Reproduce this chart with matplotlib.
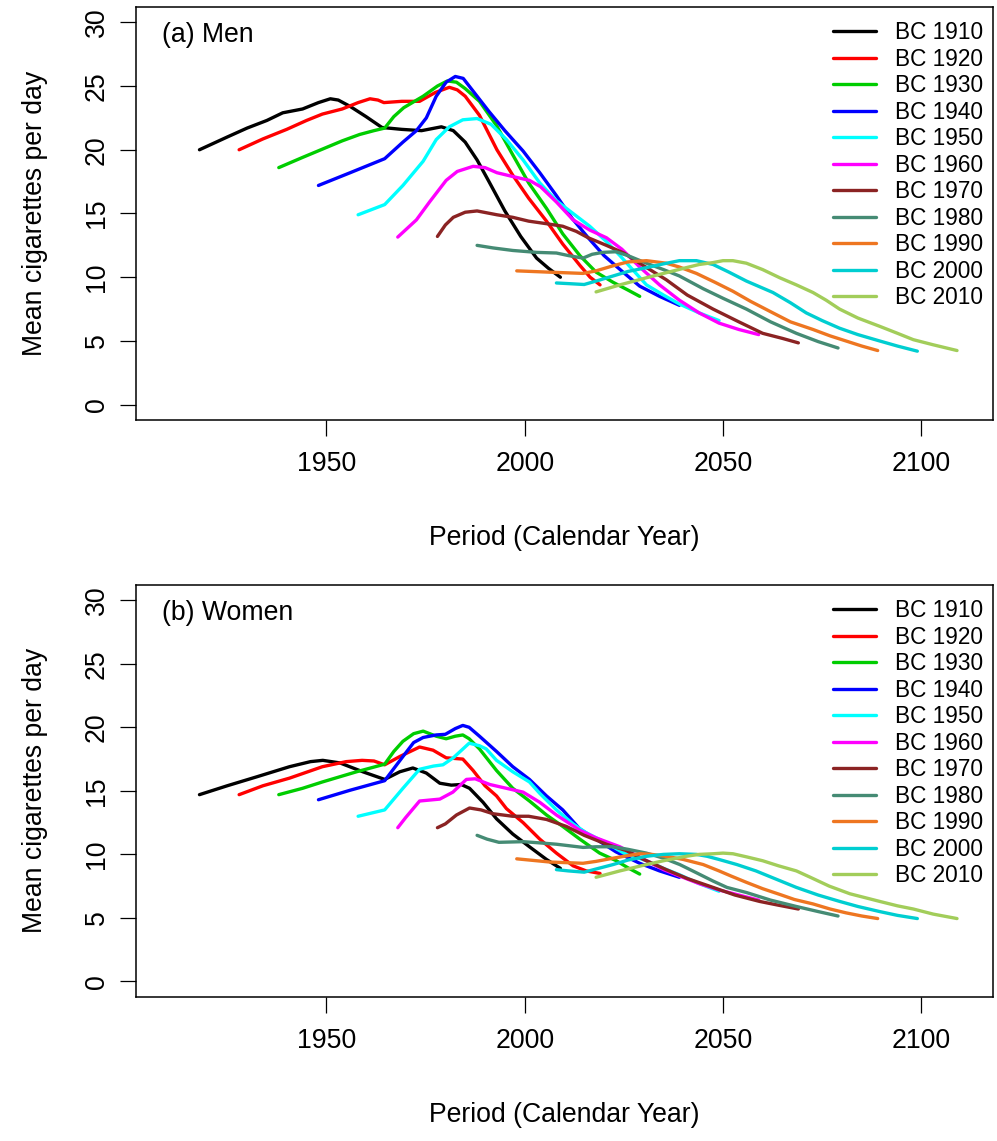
import matplotlib
matplotlib.use('Agg')
import matplotlib.pyplot as plt

plt.rcParams['font.family'] = ['Liberation Sans', 'DejaVu Sans']
FS = 19.2      # axis text
FS_LEG = 16.3  # legend text

cohorts = ['BC 1910', 'BC 1920', 'BC 1930', 'BC 1940', 'BC 1950', 'BC 1960',
           'BC 1970', 'BC 1980', 'BC 1990', 'BC 2000', 'BC 2010']
colors = ['black', '#FF0000', '#00CD00', '#0000FF', '#00FFFF', '#FF00FF',
          '#8B2323', '#458B74', '#EE7621', '#00CED1', '#A2CD5A']

# ---------------- men: (calendar year, mean cigarettes per day) ----------------
men_yr_1910 = [1918, 1925, 1930, 1935, 1939, 1944, 1948, 1951, 1953, 1956, 1960, 1964, 1969, 1974,
               1979, 1982, 1985, 1988, 1991, 1995, 1999, 2003, 2006, 2009]
men_cig_1910 = [20.0, 21.0, 21.7, 22.3, 22.9, 23.2, 23.7, 24.0, 23.9, 23.4, 22.6, 21.75, 21.6, 21.5,
                21.8, 21.5, 20.6, 19.2, 17.5, 15.2, 13.2, 11.5, 10.7, 10.0]
men_yr_1920 = [1928, 1934, 1940, 1945, 1949, 1954, 1958, 1961, 1963, 1964.5, 1969, 1973.5, 1977.5, 1981,
               1983, 1985, 1988.6, 1993, 1997, 2001, 2005.5, 2009.6, 2014, 2016.5, 2019]
men_cig_1920 = [20.0, 20.85, 21.6, 22.3, 22.8, 23.2, 23.7, 24.0, 23.9, 23.7, 23.8, 23.8, 24.5, 24.9,
                24.7, 24.2, 22.7, 20.0, 18.0, 16.2, 14.4, 12.6, 10.9, 10.0, 9.4]
men_yr_1930 = [1938, 1944, 1949, 1954, 1958.4, 1962, 1964.7, 1967, 1969.5, 1974.4, 1978, 1980.5, 1982.8,
               1985, 1988.6, 1992.9, 1997, 2001, 2005.5, 2009.6, 2013.9, 2018, 2022.3, 2026, 2029]
men_cig_1930 = [18.6, 19.4, 20.05, 20.7, 21.2, 21.5, 21.7, 22.6, 23.3, 24.2, 25.0, 25.4, 25.3,
                24.8, 23.8, 21.9, 19.6, 17.4, 15.4, 13.4, 11.7, 10.4, 9.6, 9.0, 8.5]
men_yr_1940 = [1948, 1956, 1964.7, 1969.3, 1972.7, 1975.2, 1977.7, 1980.2, 1982.5, 1984.5, 1987, 1991,
               1995, 1999.6, 2003.8, 2008, 2012, 2016, 2020, 2024.8, 2029, 2034, 2039]
men_cig_1940 = [17.2, 18.2, 19.3, 20.6, 21.5, 22.5, 24.2, 25.3, 25.75, 25.6, 24.6, 23.0,
                21.5, 19.9, 18.2, 16.4, 14.6, 13.1, 11.7, 10.4, 9.3, 8.5, 7.8]
men_yr_1950 = [1958, 1964.7, 1969.3, 1974.4, 1977.7, 1981, 1984.4, 1988, 1991.5, 1995.4, 1999.6, 2003.8,
               2008, 2012.2, 2016.4, 2020.6, 2024, 2030.7, 2035, 2039, 2044, 2049]
men_cig_1950 = [14.9, 15.7, 17.2, 19.1, 20.8, 21.8, 22.35, 22.45, 22.0, 20.8, 19.2, 17.4,
                16.0, 15.0, 14.0, 12.8, 11.7, 9.4, 8.6, 7.9, 7.2, 6.6]
men_yr_1960 = [1968, 1972.7, 1976, 1980.2, 1983, 1987, 1990, 1993, 1997, 2001.2, 2004, 2008, 2012.2,
               2016.4, 2020.6, 2024.5, 2029, 2034, 2039, 2044, 2049, 2054, 2059]
men_cig_1960 = [13.15, 14.5, 15.9, 17.6, 18.3, 18.7, 18.6, 18.2, 17.9, 17.6, 17.1, 15.9, 14.5,
                13.7, 13.1, 12.2, 10.8, 9.4, 8.2, 7.2, 6.4, 5.9, 5.5]
men_yr_1970 = [1978, 1980, 1982, 1985, 1988, 1993, 1997, 2001, 2005.5, 2009.6, 2013, 2016, 2020.6,
               2025, 2030, 2035.7, 2041, 2047.5, 2054, 2060, 2065, 2069]
men_cig_1970 = [13.2, 14.1, 14.7, 15.1, 15.2, 14.9, 14.7, 14.4, 14.2, 14.0, 13.6, 13.1, 12.5,
                11.9, 10.9, 9.8, 8.6, 7.5, 6.5, 5.6, 5.2, 4.85]
men_yr_1980 = [1988, 1992, 1997, 2003, 2008, 2011, 2014.7, 2017, 2019.7, 2023, 2026, 2030.7, 2035,
               2039, 2045, 2050, 2055.9, 2062, 2068.5, 2074, 2079]
men_cig_1980 = [12.5, 12.3, 12.1, 11.95, 11.9, 11.7, 11.5, 11.8, 11.95, 12.0, 11.7, 11.1, 10.6,
                10.1, 9.1, 8.35, 7.5, 6.5, 5.6, 4.95, 4.45]
men_yr_1990 = [1998, 2006, 2014.7, 2018, 2022.3, 2026, 2030.7, 2035.7, 2039, 2043.3, 2048, 2052.5,
               2057, 2062.6, 2067, 2072.7, 2077, 2081, 2085, 2089]
men_cig_1990 = [10.5, 10.4, 10.3, 10.5, 10.9, 11.2, 11.3, 11.1, 10.8, 10.3, 9.6, 8.9,
                8.1, 7.2, 6.5, 5.9, 5.4, 5.0, 4.6, 4.25]
men_yr_2000 = [2008, 2011, 2015, 2018, 2022.3, 2026, 2030.7, 2035, 2039, 2043.3, 2047.5, 2051.5,
               2055.9, 2062.6, 2067, 2071, 2075, 2079.4, 2084, 2089.5, 2094, 2099]
men_cig_2000 = [9.55, 9.5, 9.43, 9.7, 10.1, 10.45, 10.75, 11.05, 11.3, 11.3, 11.0, 10.4,
                9.7, 8.8, 8.0, 7.2, 6.6, 6.0, 5.5, 5.0, 4.6, 4.2]
men_yr_2010 = [2018, 2024, 2030.7, 2035, 2040.7, 2044, 2047.5, 2050, 2052.5, 2055.9, 2060, 2064.3,
               2068.5, 2072.7, 2076, 2079.4, 2084, 2089.5, 2094, 2098, 2103, 2109]
men_cig_2010 = [8.85, 9.4, 9.96, 10.3, 10.75, 11.0, 11.15, 11.3, 11.3, 11.1, 10.6, 9.96,
                9.4, 8.8, 8.2, 7.5, 6.8, 6.15, 5.6, 5.1, 4.7, 4.25]

# ---------------- women ----------------
wom_yr_1910 = [1918, 1925, 1932.4, 1940.7, 1946, 1949.1, 1953.4, 1959.2, 1964.7, 1968.5, 1971.8, 1975.2,
               1978.6, 1981.5, 1984, 1986.1, 1989.5, 1992.9, 1997, 2001.2, 2005.5, 2009]
wom_cig_1910 = [14.7, 15.4, 16.1, 16.9, 17.3, 17.4, 17.2, 16.5, 15.9, 16.5, 16.8, 16.4,
                15.6, 15.45, 15.5, 15.2, 14.1, 12.8, 11.6, 10.6, 9.6, 8.9]
wom_yr_1920 = [1928, 1934, 1940.7, 1949, 1955, 1959, 1962, 1964.7, 1968.5, 1973.5, 1976.9, 1980.2,
               1984.4, 1987, 1990, 1992.9, 1995.4, 1999.6, 2003.8, 2008, 2012.2, 2015.5, 2019]
wom_cig_1920 = [14.7, 15.4, 16.0, 16.9, 17.3, 17.4, 17.35, 17.05, 17.7, 18.45, 18.2, 17.6,
                17.5, 16.6, 15.4, 14.6, 13.6, 12.5, 11.2, 10.1, 9.1, 8.7, 8.5]
wom_yr_1930 = [1938, 1944, 1949, 1957.6, 1964.7, 1967, 1969.3, 1972, 1974.4, 1977.7, 1980.2, 1982.5,
               1984.4, 1986, 1988.6, 1992.9, 1997, 2001.2, 2005.5, 2009.6, 2013.9, 2018.9, 2023.1,
               2026, 2029]
wom_cig_1930 = [14.7, 15.2, 15.7, 16.5, 17.1, 18.1, 18.9, 19.5, 19.7, 19.3, 19.1, 19.3,
                19.4, 19.1, 18.3, 16.6, 15.2, 14.2, 13.1, 12.2, 11.2, 10.1, 9.5,
                8.95, 8.45]
wom_yr_1940 = [1948, 1956, 1964.7, 1969.3, 1972, 1974.4, 1977.7, 1980, 1982.5, 1984.4, 1986, 1988.6,
               1992.9, 1997, 2001.2, 2005.5, 2009.6, 2013.9, 2018, 2023, 2029, 2034, 2039]
wom_cig_1940 = [14.3, 15.05, 15.8, 17.7, 18.8, 19.2, 19.4, 19.45, 19.9, 20.15, 20.0, 19.3,
                18.1, 16.9, 15.9, 14.6, 13.5, 12.0, 11.2, 10.2, 9.3, 8.7, 8.2]
wom_yr_1950 = [1958, 1964.7, 1969.3, 1973.5, 1977, 1979.4, 1982, 1986, 1988.6, 1990.3, 1992.9, 1997,
               2001.2, 2003.8, 2008, 2012.2, 2015.5, 2020.6, 2025, 2030.7, 2035, 2039, 2044, 2049]
wom_cig_1950 = [13.0, 13.5, 15.2, 16.7, 16.95, 17.05, 17.6, 18.75, 18.55, 18.3, 17.4, 16.5,
                15.7, 14.8, 13.5, 12.4, 11.7, 10.9, 10.1, 9.5, 8.9, 8.4, 7.7, 7.1]
wom_yr_1960 = [1968, 1970, 1973.5, 1978.6, 1981.9, 1985.3, 1987.5, 1991.2, 1995.4, 1999.6, 2003.8,
               2008, 2013.9, 2018, 2024, 2030.7, 2035, 2039, 2044, 2049, 2054, 2059]
wom_cig_1960 = [12.1, 12.9, 14.2, 14.35, 14.9, 15.9, 15.95, 15.5, 15.2, 14.9, 14.1,
                13.1, 11.9, 11.3, 10.6, 9.5, 8.8, 8.3, 7.7, 7.2, 6.8, 6.4]
wom_yr_1970 = [1978, 1980, 1982.8, 1986.1, 1989, 1992, 1997, 2001, 2005.5, 2010.5, 2015, 2020.6,
               2025.6, 2030, 2035.7, 2041, 2047.5, 2053, 2059.2, 2064, 2069]
wom_cig_1970 = [12.1, 12.4, 13.1, 13.65, 13.5, 13.2, 13.0, 13.0, 12.75, 12.2, 11.5, 10.8,
                10.3, 9.6, 8.8, 8.1, 7.4, 6.8, 6.3, 6.0, 5.7]
wom_yr_1980 = [1988, 1990.5, 1993.5, 1999.6, 2004, 2008, 2014.7, 2018, 2022.3, 2026, 2030.7, 2035,
               2039.1, 2043, 2047.5, 2051, 2055.9, 2062, 2068.5, 2074, 2079]
wom_cig_1980 = [11.5, 11.2, 10.95, 11.0, 10.9, 10.8, 10.55, 10.6, 10.6, 10.4, 10.1, 9.7,
                9.2, 8.6, 7.9, 7.4, 7.0, 6.4, 5.9, 5.5, 5.15]
wom_yr_1990 = [1998, 2006.3, 2014.7, 2018, 2022.3, 2026, 2029, 2032, 2035.7, 2040, 2045, 2049,
               2052, 2055.9, 2060, 2064.3, 2068, 2072.7, 2077, 2081, 2085, 2089]
wom_cig_1990 = [9.65, 9.4, 9.3, 9.45, 9.7, 9.9, 10.05, 10.0, 9.85, 9.6, 9.2, 8.7,
                8.3, 7.8, 7.3, 6.85, 6.45, 6.1, 5.7, 5.4, 5.15, 4.95]
wom_yr_2000 = [2008, 2011, 2015, 2018, 2022.3, 2026, 2030.7, 2035, 2039, 2043.3, 2046, 2049,
               2053.5, 2058.3, 2063, 2068.5, 2074, 2079.4, 2084, 2089.5, 2094, 2099]
wom_cig_2000 = [8.8, 8.7, 8.6, 8.85, 9.2, 9.55, 9.85, 10.0, 10.05, 10.0, 9.85, 9.6,
                9.2, 8.7, 8.1, 7.4, 6.8, 6.3, 5.9, 5.5, 5.2, 4.95]
wom_yr_2010 = [2018, 2024, 2030.7, 2035, 2040.7, 2044, 2047.5, 2050, 2052.5, 2056, 2060, 2064,
               2068.5, 2072, 2076.8, 2082, 2089.5, 2094, 2098, 2103, 2109]
wom_cig_2010 = [8.2, 8.7, 9.2, 9.5, 9.85, 10.0, 10.05, 10.1, 10.05, 9.8, 9.5, 9.1,
                8.7, 8.2, 7.5, 6.9, 6.3, 5.95, 5.7, 5.3, 4.95]

men_years = [men_yr_1910, men_yr_1920, men_yr_1930, men_yr_1940, men_yr_1950, men_yr_1960,
             men_yr_1970, men_yr_1980, men_yr_1990, men_yr_2000, men_yr_2010]
men_vals = [men_cig_1910, men_cig_1920, men_cig_1930, men_cig_1940, men_cig_1950, men_cig_1960,
            men_cig_1970, men_cig_1980, men_cig_1990, men_cig_2000, men_cig_2010]
wom_years = [wom_yr_1910, wom_yr_1920, wom_yr_1930, wom_yr_1940, wom_yr_1950, wom_yr_1960,
             wom_yr_1970, wom_yr_1980, wom_yr_1990, wom_yr_2000, wom_yr_2010]
wom_vals = [wom_cig_1910, wom_cig_1920, wom_cig_1930, wom_cig_1940, wom_cig_1950, wom_cig_1960,
            wom_cig_1970, wom_cig_1980, wom_cig_1990, wom_cig_2000, wom_cig_2010]

W, H = 997, 1141
fig = plt.figure(figsize=(W / 100, H / 100), dpi=100)


def panel(top, bottom, years, vals, tag):
    ax = fig.add_axes([136 / W, 1 - bottom / H, (992.7 - 136) / W, (bottom - top) / H])
    for yr, v, c, lab in zip(years, vals, colors, cohorts):
        ax.plot(yr, v, color=c, lw=2.4, solid_capstyle='round', label=lab)
    ax.set_xlim(1902, 2118)
    ax.set_ylim(-1.2, 31.2)
    ax.set_xticks([1950, 2000, 2050, 2100])
    ax.set_yticks([0, 5, 10, 15, 20, 25, 30])
    ax.tick_params(length=11.5, width=0.9, labelsize=FS, direction='out')
    ax.tick_params(axis='x', pad=11)
    ax.tick_params(axis='y', pad=7.4)
    for lb in ax.get_yticklabels():
        lb.set_rotation(90)
        lb.set_va('center')
    for s in ax.spines.values():
        s.set_linewidth(1.1)
    ax.text(0.0303, 0.932, tag, transform=ax.transAxes, fontsize=FS, va='center')
    ax.legend(loc='upper left', bbox_to_anchor=(0.8136, 0.966), frameon=False, fontsize=FS_LEG,
              handlelength=1.9, handletextpad=0.84, labelspacing=0.156, borderpad=0,
              borderaxespad=0)
    fig.text(35 / W, 1 - (top + bottom) / 2 / H, 'Mean cigarettes per day', rotation=90,
             ha='center', va='center', fontsize=FS)
    fig.text(564 / W, 1 - (bottom + 118) / H, 'Period (Calendar Year)', ha='center',
             va='center', fontsize=FS)
    return ax


panel(7, 420, men_years, men_vals, '(a) Men')
panel(585, 996.7, wom_years, wom_vals, '(b) Women')

fig.savefig('out.png', dpi=100)
